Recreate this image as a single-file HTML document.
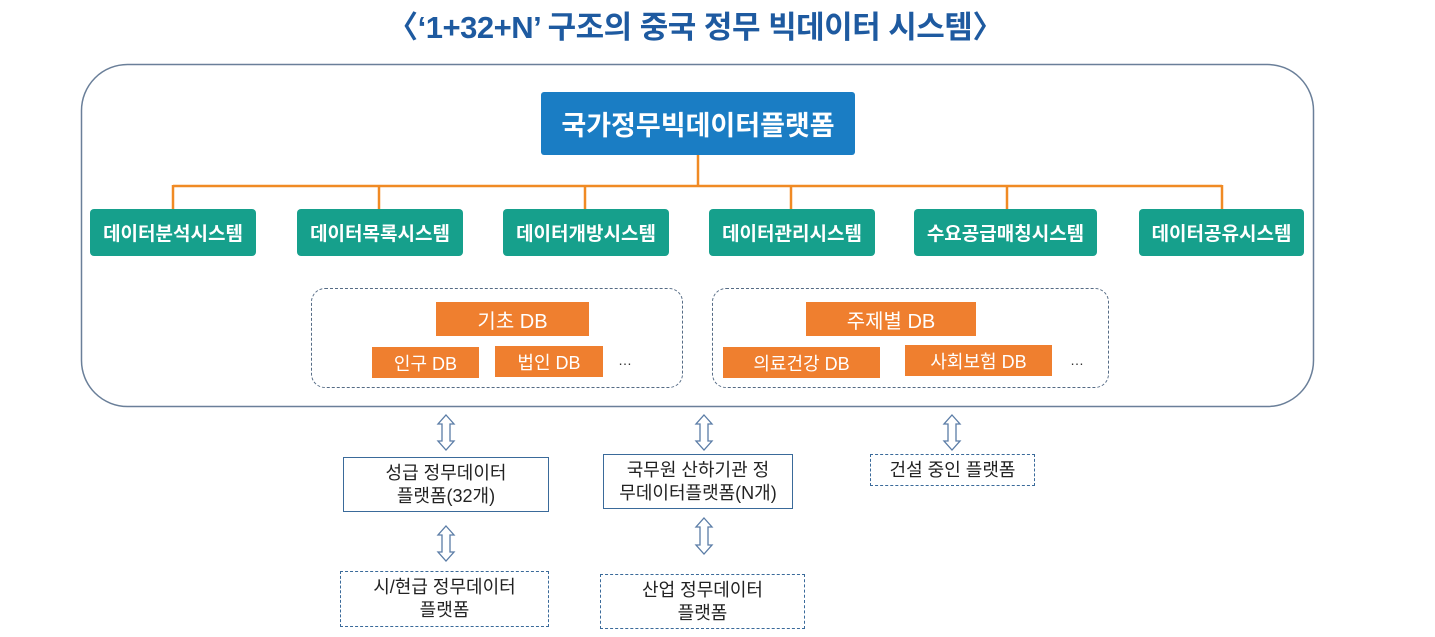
<!DOCTYPE html>
<html><head><meta charset="utf-8"><style>
body{margin:0;width:1435px;height:637px;background:#fff;position:relative;overflow:hidden;font-family:"Liberation Sans","Noto Sans CJK KR","NanumGothic",sans-serif}
.a{position:absolute;box-sizing:border-box;display:flex;align-items:center;justify-content:center;text-align:center}
.t{left:360px;top:4px;width:670px;height:40px;color:#1e5aa0;font-size:31px;font-weight:bold;letter-spacing:-0.5px}
.top{background:#1a7dc4;color:#fff;font-weight:bold;font-size:27px;border-radius:3px}
.g{background:#16a08c;color:#fff;font-weight:bold;font-size:19px;border-radius:4px;top:209px;height:47px}
.o{background:#ef7f2f;color:#fff;font-size:18px}
.d{border:1.5px dashed #556b85;border-radius:14px}
.b{font-size:18px;color:#222;line-height:23px;background:#fff}
.s{border:1px solid #3a6a9a}
.ds{border:1px dashed #3a6a9a}
</style></head><body>
<div class="a t">〈‘1+32+N’ 구조의 중국 정무 빅데이터 시스템〉</div>
<svg width="1435" height="637" style="position:absolute;left:0;top:0">
<rect x="81.5" y="64.5" width="1232" height="342" rx="46" fill="none" stroke="#6a7f99" stroke-width="1.5"/>
<g stroke="#f08a24" stroke-width="2.5" fill="none">
<line x1="698" y1="155" x2="698" y2="186"/>
<line x1="173" y1="186" x2="1222" y2="186"/>
<line x1="173" y1="185" x2="173" y2="210"/><line x1="379" y1="185" x2="379" y2="210"/>
<line x1="585" y1="185" x2="585" y2="210"/><line x1="791" y1="185" x2="791" y2="210"/>
<line x1="1007" y1="185" x2="1007" y2="210"/><line x1="1222" y1="185" x2="1222" y2="210"/>
</g>
<g fill="#fff" stroke="#5a7ca6" stroke-width="1.3">
<path d="M446 415 l8 9 h-4 v17 h4 l-8 9 l-8 -9 h4 v-17 h-4 z"/>
<path d="M704 415 l8 9 h-4 v17 h4 l-8 9 l-8 -9 h4 v-17 h-4 z"/>
<path d="M952 415 l8 9 h-4 v17 h4 l-8 9 l-8 -9 h4 v-17 h-4 z"/>
<path d="M446 526 l8 9 h-4 v17 h4 l-8 9 l-8 -9 h4 v-17 h-4 z"/>
<path d="M704 518 l8 9 h-4 v18 h4 l-8 9 l-8 -9 h4 v-18 h-4 z"/>
</g>
</svg>
<div class="a top" style="left:541px;top:92px;width:314px;height:63px">국가정무빅데이터플랫폼</div>
<div class="a g" style="left:90px;width:166px">데이터분석시스템</div>
<div class="a g" style="left:297px;width:166px">데이터목록시스템</div>
<div class="a g" style="left:503px;width:166px">데이터개방시스템</div>
<div class="a g" style="left:709px;width:166px">데이터관리시스템</div>
<div class="a g" style="left:914px;width:183px">수요공급매칭시스템</div>
<div class="a g" style="left:1139px;width:165px">데이터공유시스템</div>
<div class="a d" style="left:311px;top:288px;width:372px;height:100px"></div>
<div class="a d" style="left:712px;top:288px;width:397px;height:100px"></div>
<div class="a o" style="left:436px;top:302px;width:153px;height:34px;font-size:20px">기초 DB</div>
<div class="a o" style="left:372px;top:347px;width:107px;height:31px">인구 DB</div>
<div class="a o" style="left:495px;top:346px;width:108px;height:31px">법인 DB</div>
<div class="a" style="left:612px;top:350px;width:26px;height:20px;font-size:14px;color:#333">…</div>
<div class="a o" style="left:806px;top:302px;width:170px;height:34px;font-size:20px">주제별 DB</div>
<div class="a o" style="left:723px;top:347px;width:157px;height:31px">의료건강 DB</div>
<div class="a o" style="left:905px;top:345px;width:147px;height:31px">사회보험 DB</div>
<div class="a" style="left:1064px;top:350px;width:26px;height:20px;font-size:14px;color:#333">…</div>
<div class="a b s" style="left:343px;top:457px;width:206px;height:55px">성급 정무데이터<br>플랫폼(32개)</div>
<div class="a b s" style="left:603px;top:454px;width:190px;height:55px">국무원 산하기관 정<br>무데이터플랫폼(N개)</div>
<div class="a b ds" style="left:870px;top:454px;width:165px;height:32px">건설 중인 플랫폼</div>
<div class="a b ds" style="left:340px;top:571px;width:209px;height:56px">시/현급 정무데이터<br>플랫폼</div>
<div class="a b ds" style="left:600px;top:574px;width:205px;height:55px">산업 정무데이터<br>플랫폼</div>
</body></html>
